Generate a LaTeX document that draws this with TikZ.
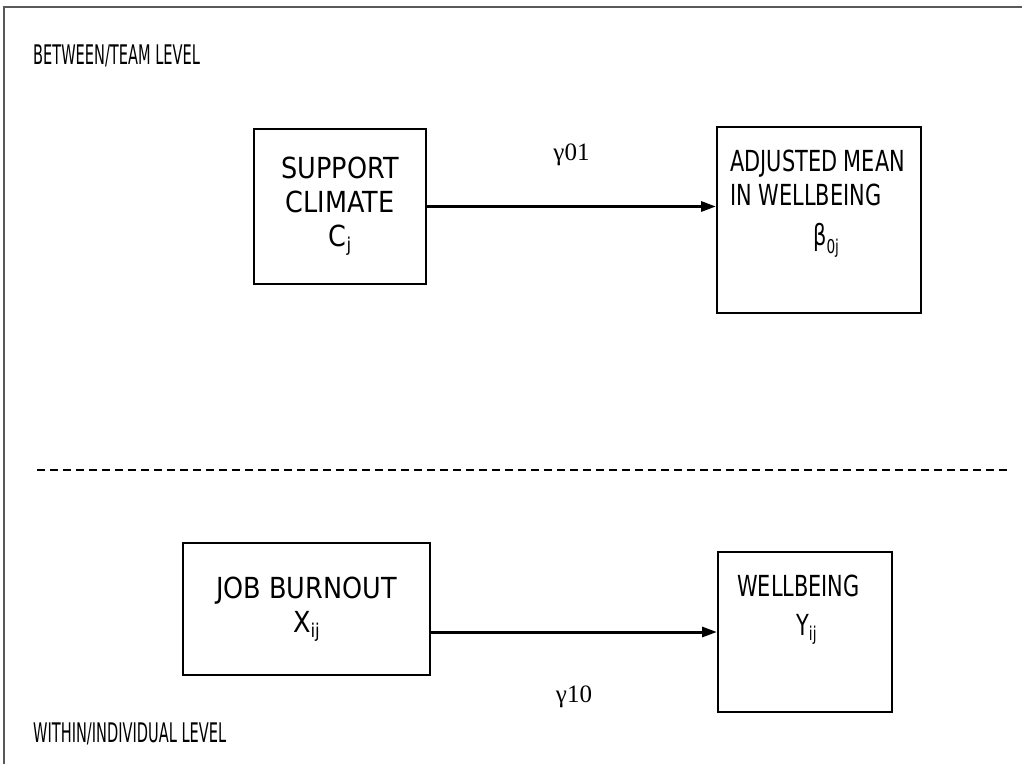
\documentclass[tikz,border=0pt]{standalone}
\usepackage{fontspec}
\setmainfont{DejaVu Sans}[FakeStretch=0.88]
\newfontfamily\narrowfont{DejaVu Sans}[FakeStretch=0.72]
\newfontfamily\levelfont{DejaVu Sans}[FakeStretch=0.54]
\newfontfamily\coeffont{Liberation Serif}
\usepackage{tikz}
\usetikzlibrary{arrows.meta,positioning}
\newcommand\lowidx[2][5pt]{\raisebox{-#1}{\fontsize{19}{19}\selectfont #2}}
\tikzset{
box/.style={draw,line width=2pt,inner sep=0pt},
boxtext/.style={align=center,inner sep=0pt,font=\fontsize{29}{34}\selectfont},
narrowtext/.style={align=left,inner sep=0pt,anchor=north west,font=\narrowfont\fontsize{29}{34}\selectfont},
leveltext/.style={inner sep=0pt,anchor=base west,font=\levelfont\fontsize{27}{30}\selectfont},
coef/.style={inner sep=0pt,font=\coeffont\fontsize{25}{25}\selectfont},
arrow/.style={-{Triangle[length=15pt,width=10pt]},line width=3pt},
divider/.style={dashed,dash pattern=on 8pt off 5pt,line width=1.5pt},
frame/.style={line width=2pt,black!65}
}
\begin{document}
\begin{tikzpicture}[x=1pt,y=-1pt]
\useasboundingbox (0,0) rectangle (1022,764);
\draw[frame] (4,764) -- (4,7) -- (1022,7);

\node[leveltext] (between) at (33,64) {BETWEEN/TEAM LEVEL};
\node[leveltext] (within) at (33,742) {WITHIN/INDIVIDUAL LEVEL};

\node[box,boxtext,minimum width=172pt,minimum height=155pt] (climate) at (340,206.5) {SUPPORT\\CLIMATE\\C\lowidx{j}};
\node[box,minimum width=204pt,minimum height=186pt] (mean) at (819,220) {};
\node[narrowtext] (meantext) at ([shift={(14,24)}]mean.north west) {ADJUSTED MEAN\\IN WELLBEING\\[6pt]\hspace*{83pt}β\lowidx[8pt]{0j}};

\draw[divider] (37,470) -- (1010,470);

\node[box,boxtext,minimum width=247pt,minimum height=132pt] (burnout) at (306.5,609) {JOB BURNOUT\\X\lowidx{ij}};
\node[box,minimum width=174pt,minimum height=160pt] (wellbeing) at (805,632) {};
\node[narrowtext] (welltext) at ([shift={(20,24)}]wellbeing.north west) {WELLBEING\\[5pt]\hspace*{59pt}Y\lowidx{ij}};

\draw[arrow] (climate.east) -- (climate.east -| mean.west) node[coef,midway,above=39pt] (g01) {γ01};
\draw[arrow] (burnout.east |- wellbeing.west) -- (wellbeing.west) node[coef,midway,below=52pt] (g10) {γ10};
\end{tikzpicture}
\end{document}
